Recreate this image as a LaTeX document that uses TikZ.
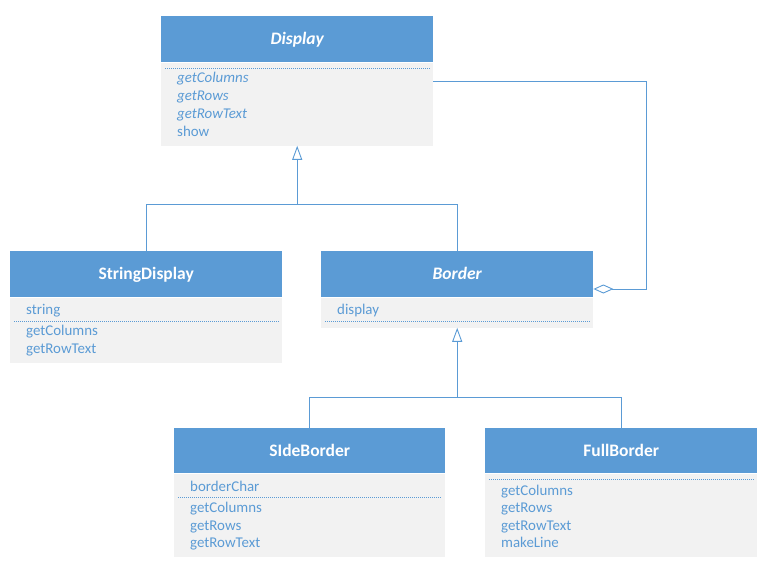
\documentclass[tikz,border=0pt]{standalone}
\usepackage{fontspec}
\setmainfont{Carlito}
\usetikzlibrary{arrows.meta,calc}
\definecolor{hdr}{HTML}{5B9BD5}
\definecolor{bodyg}{HTML}{F2F2F2}
\definecolor{txt}{HTML}{5B9BD5}
\definecolor{wire}{HTML}{5B9BD5}

\begin{document}
\begin{tikzpicture}[x=1pt,y=-1pt,
  hdrbox/.style={fill=hdr, draw=none, inner sep=0pt, anchor=north west,
    text=white, text height=12.5pt, text depth=1.3pt,
    font=\fontsize{17.5}{20}\selectfont\bfseries},
  bodybox/.style={fill=bodyg, draw=none, inner sep=0pt, anchor=north west},
  mtxt/.style={anchor=west, inner sep=0pt, text=txt,
    text height=11pt, text depth=1.6pt,
    font=\fontsize{14.9}{18}\selectfont},
  sep/.style={draw=wire, line width=0.9pt, dash pattern=on 1pt off 1pt},
  wireline/.style={draw=wire, line width=0.9pt},
  inh/.style={wireline, -{Triangle[open, length=14pt, width=10pt, line width=0.9pt]}},
  agg/.style={wireline, -{Diamond[open, length=20pt, width=9pt, line width=0.9pt]}}
]
\useasboundingbox (0,0) rectangle (772,573);

% Display
\node[hdrbox, minimum width=272pt, minimum height=46pt] (dispH) at (161,16) {\itshape Display};
\node[bodybox, minimum width=272pt, minimum height=83pt] (dispB) at (dispH.south west) {};
\draw[sep] ($(dispB.north west)+(4,6)$) -- ($(dispB.north east)+(-4,6)$);
\node[mtxt] (d1) at (177,78) {\itshape getColumns};
\node[mtxt] (d2) at (177,96) {\itshape getRows};
\node[mtxt] (d3) at (177,114) {\itshape getRowText};
\node[mtxt] (d4) at (177,132) {show};

% StringDisplay
\node[hdrbox, minimum width=272pt, minimum height=46pt] (strH) at (10,251) {StringDisplay};
\node[bodybox, minimum width=272pt, minimum height=65pt] (strB) at (strH.south west) {};
\draw[sep] ($(strB.north west)+(4,24)$) -- ($(strB.north east)+(-4,24)$);
\node[mtxt] (s1) at (26,310) {string};
\node[mtxt] (s2) at (26,331) {getColumns};
\node[mtxt] (s3) at (26,349) {getRowText};

% Border
\node[hdrbox, minimum width=272pt, minimum height=46pt] (bordH) at (321,251) {\itshape Border};
\node[bodybox, minimum width=272pt, minimum height=30pt] (bordB) at (bordH.south west) {};
\draw[sep] ($(bordB.north west)+(4,24)$) -- ($(bordB.north east)+(-4,24)$);
\node[mtxt] (b1) at (337,310) {display};

% SideBorder
\node[hdrbox, minimum width=271pt, minimum height=45pt] (sideH) at (174,428) {SIdeBorder};
\node[bodybox, minimum width=271pt, minimum height=83pt] (sideB) at (sideH.south west) {};
\draw[sep] ($(sideB.north west)+(4,24)$) -- ($(sideB.north east)+(-4,24)$);
\node[mtxt] (sb1) at (190,487) {borderChar};
\node[mtxt] (sb2) at (190,508) {getColumns};
\node[mtxt] (sb3) at (190,526) {getRows};
\node[mtxt] (sb4) at (190,543) {getRowText};

% FullBorder
\node[hdrbox, minimum width=272pt, minimum height=45pt] (fullH) at (485,428) {FullBorder};
\node[bodybox, minimum width=272pt, minimum height=83pt] (fullB) at (fullH.south west) {};
\draw[sep] ($(fullB.north west)+(4,6)$) -- ($(fullB.north east)+(-4,6)$);
\node[mtxt] (f1) at (501,491) {getColumns};
\node[mtxt] (f2) at (501,508) {getRows};
\node[mtxt] (f3) at (501,526) {getRowText};
\node[mtxt] (f4) at (501,543) {makeLine};

% generalisation: StringDisplay, Border -> Display
\coordinate (j1) at ($(dispB.south)+(0,59)$);
\draw[wireline] (strH.north) |- (j1) -| (bordH.north);
\draw[inh] (j1) -- (dispB.south);

% generalisation: SideBorder, FullBorder -> Border
\coordinate (j2) at ($(bordB.south)+(0,70)$);
\draw[wireline] (sideH.north) |- (j2) -| (fullH.north);
\draw[inh] (j2) -- (bordB.south);

% aggregation: Border holds a Display
\coordinate (a1) at ($(dispB.north east)+(0,19)$);
\coordinate (a2) at ($(bordH.north east)+(53,38)$);
\coordinate (a3) at ($(bordH.north east)+(0,38)$);
\draw[agg] (a1) -| (a2) -- (a3);
\end{tikzpicture}
\end{document}
